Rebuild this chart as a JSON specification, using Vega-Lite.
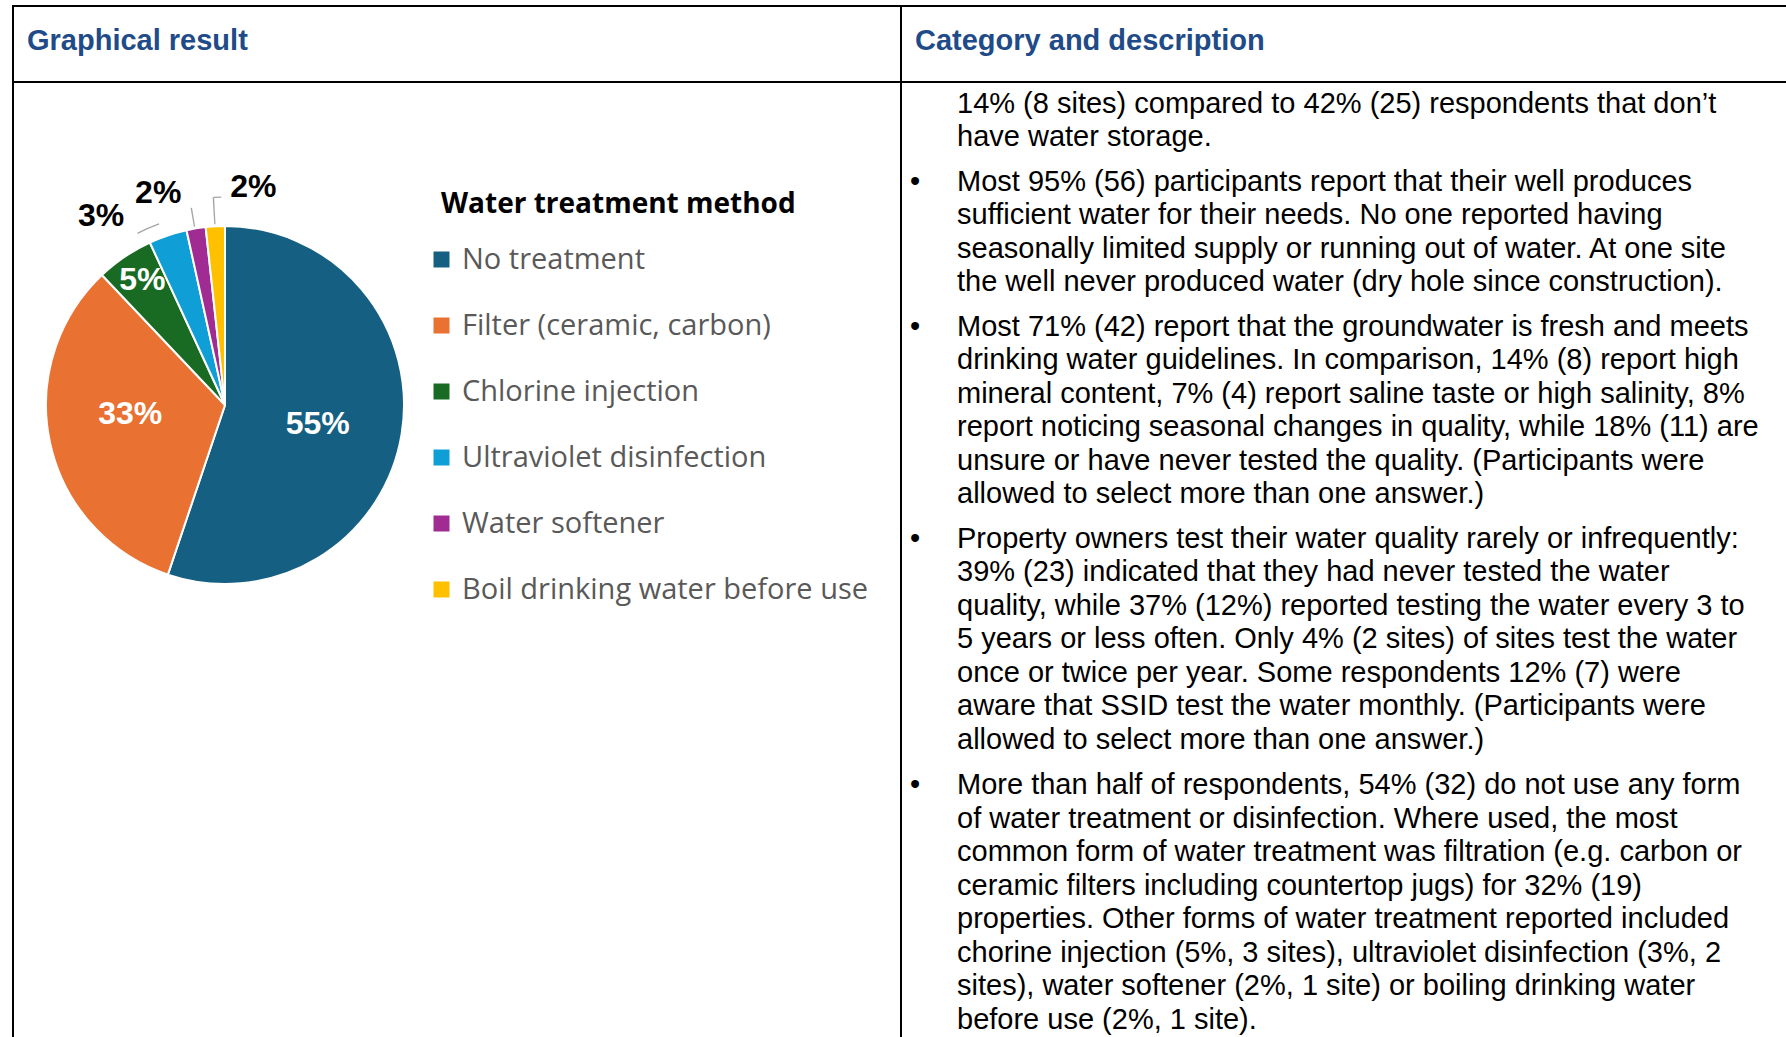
{
  "$schema": "https://vega.github.io/schema/vega-lite/v6.json",
  "padding": {"left": 12, "top": 5, "right": 0, "bottom": 0},
  "background": "white",
  "config": {"view": {"stroke": "black", "strokeWidth": 2}, "font": "Liberation Sans"},
  "datasets": {
    "methods": [
      {"rank": 1, "method": "No treatment", "sites": 32, "share": 0.55},
      {"rank": 2, "method": "Filter (ceramic, carbon)", "sites": 19, "share": 0.33},
      {"rank": 3, "method": "Chlorine injection", "sites": 3, "share": 0.05},
      {"rank": 4, "method": "Ultraviolet disinfection", "sites": 2, "share": 0.03},
      {"rank": 5, "method": "Water softener", "sites": 1, "share": 0.02},
      {"rank": 6, "method": "Boil drinking water before use", "sites": 1, "share": 0.02}
    ],
    "lines": [
      {"para": 0, "line": 0, "kind": "text", "text": "14% (8 sites) compared to 42% (25) respondents that don’t"},
      {"para": 0, "line": 1, "kind": "text", "text": "have water storage."},
      {"para": 1, "line": 2, "kind": "bullet", "text": "•"},
      {"para": 1, "line": 2, "kind": "text", "text": "Most 95% (56) participants report that their well produces"},
      {"para": 1, "line": 3, "kind": "text", "text": "sufficient water for their needs. No one reported having"},
      {"para": 1, "line": 4, "kind": "text", "text": "seasonally limited supply or running out of water. At one site"},
      {"para": 1, "line": 5, "kind": "text", "text": "the well never produced water (dry hole since construction)."},
      {"para": 2, "line": 6, "kind": "bullet", "text": "•"},
      {"para": 2, "line": 6, "kind": "text", "text": "Most 71% (42) report that the groundwater is fresh and meets"},
      {"para": 2, "line": 7, "kind": "text", "text": "drinking water guidelines. In comparison, 14% (8) report high"},
      {"para": 2, "line": 8, "kind": "text", "text": "mineral content, 7% (4) report saline taste or high salinity, 8%"},
      {"para": 2, "line": 9, "kind": "text", "text": "report noticing seasonal changes in quality, while 18% (11) are"},
      {"para": 2, "line": 10, "kind": "text", "text": "unsure or have never tested the quality. (Participants were"},
      {"para": 2, "line": 11, "kind": "text", "text": "allowed to select more than one answer.)"},
      {"para": 3, "line": 12, "kind": "bullet", "text": "•"},
      {"para": 3, "line": 12, "kind": "text", "text": "Property owners test their water quality rarely or infrequently:"},
      {"para": 3, "line": 13, "kind": "text", "text": "39% (23) indicated that they had never tested the water"},
      {"para": 3, "line": 14, "kind": "text", "text": "quality, while 37% (12%) reported testing the water every 3 to"},
      {"para": 3, "line": 15, "kind": "text", "text": "5 years or less often. Only 4% (2 sites) of sites test the water"},
      {"para": 3, "line": 16, "kind": "text", "text": "once or twice per year. Some respondents 12% (7) were"},
      {"para": 3, "line": 17, "kind": "text", "text": "aware that SSID test the water monthly. (Participants were"},
      {"para": 3, "line": 18, "kind": "text", "text": "allowed to select more than one answer.)"},
      {"para": 4, "line": 19, "kind": "bullet", "text": "•"},
      {"para": 4, "line": 19, "kind": "text", "text": "More than half of respondents, 54% (32) do not use any form"},
      {"para": 4, "line": 20, "kind": "text", "text": "of water treatment or disinfection. Where used, the most"},
      {"para": 4, "line": 21, "kind": "text", "text": "common form of water treatment was filtration (e.g. carbon or"},
      {"para": 4, "line": 22, "kind": "text", "text": "ceramic filters including countertop jugs) for 32% (19)"},
      {"para": 4, "line": 23, "kind": "text", "text": "properties. Other forms of water treatment reported included"},
      {"para": 4, "line": 24, "kind": "text", "text": "chorine injection (5%, 3 sites), ultraviolet disinfection (3%, 2"},
      {"para": 4, "line": 25, "kind": "text", "text": "sites), water softener (2%, 1 site) or boiling drinking water"},
      {"para": 4, "line": 26, "kind": "text", "text": "before use (2%, 1 site)."}
    ]
  },
  "columns": 2,
  "spacing": 0,
  "bounds": "flush",
  "concat": [
    {
      "width": 888, "height": 76,
      "data": {"values": [{"header": "Graphical result", "kind": "header"}]},
      "mark": {"type": "text", "align": "left", "baseline": "middle", "dy": -3, "font": "Liberation Sans", "fontSize": 29, "fontWeight": "bold", "color": "#1F4B88"},
      "encoding": {
        "x": {"field": "kind", "type": "nominal", "scale": {"type": "point", "domain": ["header"], "range": [0, 28], "padding": 0}, "axis": null},
        "text": {"field": "header"}
      }
    },
    {
      "width": 900, "height": 76,
      "data": {"values": [{"header": "Category and description", "kind": "header"}]},
      "mark": {"type": "text", "align": "left", "baseline": "middle", "dy": -3, "font": "Liberation Sans", "fontSize": 29, "fontWeight": "bold", "color": "#1F4B88"},
      "encoding": {
        "x": {"field": "kind", "type": "nominal", "scale": {"type": "point", "domain": ["header"], "range": [0, 28], "padding": 0}, "axis": null},
        "text": {"field": "header"}
      }
    },
    {
      "width": 888, "height": 958,
      "data": {"name": "methods"},
      "encoding": {
        "theta": {"field": "sites", "type": "quantitative", "stack": true},
        "order": {"field": "rank", "type": "quantitative", "sort": "ascending"},
        "detail": {"field": "method"},
        "x": {"value": 212},
        "y": {"value": 323}
      },
      "layer": [
        {
          "mark": {"type": "arc", "radius": 179, "stroke": "white", "strokeWidth": 2},
          "encoding": {
            "color": {
              "field": "method", "type": "nominal",
              "scale": {
                "domain": ["No treatment", "Filter (ceramic, carbon)", "Chlorine injection", "Ultraviolet disinfection", "Water softener", "Boil drinking water before use"],
                "range": ["#156082", "#E97132", "#196B24", "#0F9ED5", "#A02B93", "#FFC000"]
              },
              "legend": {
                "orient": "none", "legendX": 428, "legendY": 185, "padding": 0,
                "title": "Water treatment method", "titleLimit": 700,
                "symbolType": "square", "symbolSize": 256, "symbolStrokeWidth": 0, "symbolOffset": -14,
                "labelFont": "Open Sans", "labelFontSize": 29, "labelColor": "#595959", "labelOffset": 6, "labelLimit": 700,
                "titleFont": "Open Sans", "titleFontSize": 28, "titleFontWeight": "bold", "titleColor": "black",
                "rowPadding": 36, "titlePadding": 26
              }
            }
          }
        },
        {
          "transform": [
            {"stack": "sites", "groupby": [], "sort": [{"field": "rank", "order": "ascending"}], "as": ["s0", "s1"]},
            {"filter": "datum.method === 'Water softener'"}
          ],
          "mark": {"type": "arc", "radius": 200, "radius2": 181, "thetaOffset": 0.0438, "theta2Offset": -0.0574, "color": "#A5A5A5"},
          "encoding": {
            "theta": {"field": "s0", "type": "quantitative", "stack": null},
            "theta2": {"field": "s1"}
          }
        },
        {
          "transform": [
            {"stack": "sites", "groupby": [], "sort": [{"field": "rank", "order": "ascending"}], "as": ["s0", "s1"]},
            {"filter": "datum.method === 'Boil drinking water before use'"}
          ],
          "mark": {"type": "arc", "radius": 208, "radius2": 181, "thetaOffset": 0.0489, "theta2Offset": -0.0524, "color": "#A5A5A5"},
          "encoding": {
            "theta": {"field": "s0", "type": "quantitative", "stack": null},
            "theta2": {"field": "s1"}
          }
        },
        {
          "transform": [
            {"stack": "sites", "groupby": [], "sort": [{"field": "rank", "order": "ascending"}], "as": ["s0", "s1"]},
            {"filter": "datum.method === 'Boil drinking water before use'"}
          ],
          "mark": {"type": "arc", "radius": 208.5, "radius2": 207.2, "thetaOffset": 0.0524, "theta2Offset": -0.0175, "color": "#A5A5A5"},
          "encoding": {
            "theta": {"field": "s0", "type": "quantitative", "stack": null},
            "theta2": {"field": "s1"}
          }
        },
        {
          "transform": [
            {"stack": "sites", "groupby": [], "sort": [{"field": "rank", "order": "ascending"}], "as": ["s0", "s1"]},
            {"filter": "datum.method === 'Ultraviolet disinfection'"}
          ],
          "mark": {"type": "arc", "radius": 193.3, "radius2": 192, "thetaOffset": -0.0379, "theta2Offset": -0.1325, "color": "#A5A5A5"},
          "encoding": {
            "theta": {"field": "s0", "type": "quantitative", "stack": null},
            "theta2": {"field": "s1"}
          }
        },
        {
          "mark": {"type": "text", "radius": 95, "dx": -1, "dy": 4, "fontSize": 32, "fontWeight": "bold", "font": "Liberation Sans", "clip": true},
          "encoding": {"text": {"field": "share", "format": ".0%"}, "color": {"value": "white"},
            "opacity": {"condition": {"test": "datum.method === 'No treatment'", "value": 1}, "value": 0}}
        },
        {
          "mark": {"type": "text", "radius": 95, "dx": -2, "dy": -11, "fontSize": 32, "fontWeight": "bold", "font": "Liberation Sans", "clip": true},
          "encoding": {"text": {"field": "share", "format": ".0%"}, "color": {"value": "white"},
            "opacity": {"condition": {"test": "datum.method === 'Filter (ceramic, carbon)'", "value": 1}, "value": 0}}
        },
        {
          "mark": {"type": "text", "radius": 149, "dx": 1, "dy": -2, "fontSize": 32, "fontWeight": "bold", "font": "Liberation Sans", "clip": true},
          "encoding": {"text": {"field": "share", "format": ".0%"}, "color": {"value": "white"},
            "opacity": {"condition": {"test": "datum.method === 'Chlorine injection'", "value": 1}, "value": 0}}
        },
        {
          "mark": {"type": "text", "radius": 225, "dx": -52, "dy": 24, "fontSize": 32, "fontWeight": "bold", "font": "Liberation Sans", "clip": true},
          "encoding": {"text": {"field": "share", "format": ".0%"}, "color": {"value": "black"},
            "opacity": {"condition": {"test": "datum.method === 'Ultraviolet disinfection'", "value": 1}, "value": 0}}
        },
        {
          "mark": {"type": "text", "radius": 215, "dx": -32, "dy": 0, "fontSize": 32, "fontWeight": "bold", "font": "Liberation Sans", "clip": true},
          "encoding": {"text": {"field": "share", "format": ".0%"}, "color": {"value": "black"},
            "opacity": {"condition": {"test": "datum.method === 'Water softener'", "value": 1}, "value": 0}}
        },
        {
          "mark": {"type": "text", "radius": 215, "dx": 40, "dy": -3, "fontSize": 32, "fontWeight": "bold", "font": "Liberation Sans", "clip": true},
          "encoding": {"text": {"field": "share", "format": ".0%"}, "color": {"value": "black"},
            "opacity": {"condition": {"test": "datum.method === 'Boil drinking water before use'", "value": 1}, "value": 0}}
        }
      ]
    },
    {
      "width": 900, "height": 958,
      "data": {"name": "lines"},
      "encoding": {
        "x": {"field": "kind", "type": "nominal", "scale": {"type": "point", "domain": ["bullet", "text"], "range": [9, 56], "padding": 0}, "axis": null},
        "y": {"field": "line", "type": "quantitative", "scale": {"domain": [0, 26], "range": [21.5, 892.5], "zero": false, "nice": false}, "axis": null},
        "text": {"field": "text"}
      },
      "layer": [
        {"transform": [{"filter": "datum.para === 0"}], "mark": {"type": "text", "align": "left", "baseline": "middle", "font": "Liberation Sans", "fontSize": 29, "color": "black", "dy": 0}},
        {"transform": [{"filter": "datum.para === 1"}], "mark": {"type": "text", "align": "left", "baseline": "middle", "font": "Liberation Sans", "fontSize": 29, "color": "black", "dy": 11}},
        {"transform": [{"filter": "datum.para === 2"}], "mark": {"type": "text", "align": "left", "baseline": "middle", "font": "Liberation Sans", "fontSize": 29, "color": "black", "dy": 22}},
        {"transform": [{"filter": "datum.para === 3"}], "mark": {"type": "text", "align": "left", "baseline": "middle", "font": "Liberation Sans", "fontSize": 29, "color": "black", "dy": 33}},
        {"transform": [{"filter": "datum.para === 4"}], "mark": {"type": "text", "align": "left", "baseline": "middle", "font": "Liberation Sans", "fontSize": 29, "color": "black", "dy": 45}}
      ]
    }
  ]
}
